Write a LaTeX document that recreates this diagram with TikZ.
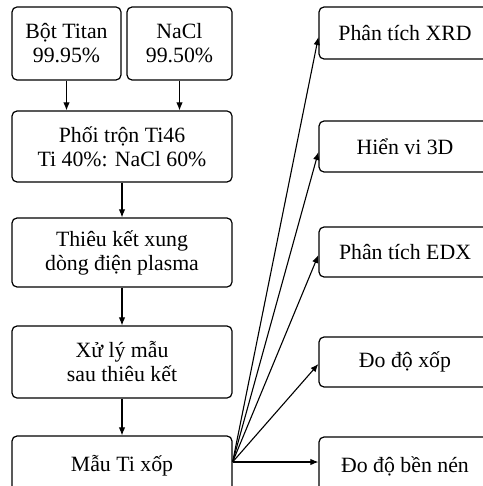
\documentclass[tikz,border=0pt]{standalone}
\usepackage{fontspec}
\setmainfont{Liberation Serif}
\usetikzlibrary{arrows.meta}
\begin{document}
\begin{tikzpicture}[x=1pt,y=-1pt,
  box/.style={draw, line width=1.2pt, rounded corners=5pt, inner sep=0pt, align=center,
    font=\fontsize{21.8}{24}\selectfont},
  rbox/.style={box, minimum width=190pt},
  arr/.style={line width=1.1pt, -{Latex[length=8pt,width=6.5pt]}}]
\useasboundingbox (0,0) rectangle (482,486);
\node[box, minimum width=109pt, minimum height=73pt] (ti) at (66.5,43.5) {Bột Titan\\99.95\%};
\node[box, minimum width=105pt, minimum height=73pt] (nacl) at (179.5,43.5) {NaCl\\99.50\%};
\node[box, minimum width=220pt, minimum height=71pt] (mix) at (122,146.5) {Phối trộn Ti46\\Ti 40\%: NaCl 60\%};
\node[box, minimum width=220pt, minimum height=69pt] (sps) at (122,252.5) {Thiêu kết xung\\dòng điện plasma};
\node[box, minimum width=220pt, minimum height=72pt] (xl) at (122,362) {Xử lý mẫu\\sau thiêu kết};
\node[box, minimum width=220pt, minimum height=60pt] (mau) at (122,466) {\raisebox{4pt}{Mẫu Ti xốp}};
\node[rbox, minimum height=52pt] (xrd) at (414,33) {\makebox[172pt]{Phân tích XRD}\hspace*{18pt}};
\node[rbox, minimum height=51pt] (hv) at (414,146.5) {\makebox[172pt]{Hiển vi 3D}\hspace*{18pt}};
\node[rbox, minimum height=50pt] (edx) at (414,252) {\makebox[172pt]{Phân tích EDX}\hspace*{18pt}};
\node[rbox, minimum height=50pt] (xop) at (414,362) {\makebox[172pt]{Đo độ xốp}\hspace*{18pt}};
\node[rbox, minimum height=60pt] (ben) at (414,467) {\makebox[172pt]{\raisebox{5pt}{Đo độ bền nén}}\hspace*{18pt}};
\draw[arr] (ti.south) -- (ti.south |- mix.north);
\draw[arr] (nacl.south) -- (nacl.south |- mix.north);
\draw[arr] (mix.south) -- (sps.north);
\draw[arr] (sps.south) -- (xl.north);
\draw[arr] (xl.south) -- (mau.north);
\draw[arr] ([yshift=4pt]mau.east) -- ([yshift=-4pt]xrd.west);
\draw[arr] ([yshift=4pt]mau.east) -- ([yshift=-5.5pt]hv.west);
\draw[arr] ([yshift=4pt]mau.east) -- ([yshift=-3pt]edx.west);
\draw[arr] ([yshift=4pt]mau.east) -- ([yshift=-2pt]xop.west);
\draw[arr] ([yshift=4pt]mau.east) -- ([yshift=5pt]ben.west);
\end{tikzpicture}
\end{document}
